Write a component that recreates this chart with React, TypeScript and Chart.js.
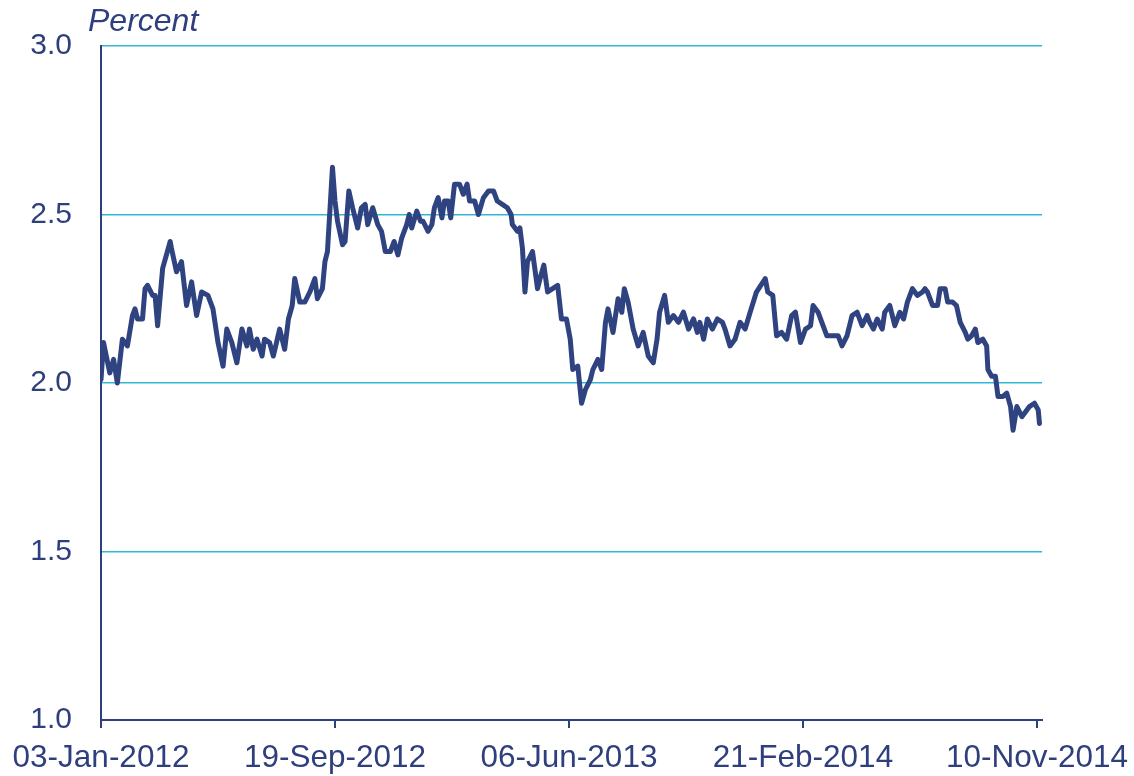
import { useEffect, useRef } from "react";
import { Chart, registerables } from "chart.js";

Chart.register(...registerables);

// Trading-day index (0 = 03-Jan-2012) and yield in percent
const tradingDay = [0,2,7,10,13,17,21,25,27,29,33,35,37,41,43,45,49,55,56,60,64,68,72,76,80,85,89,93,97,100,104,108,112,116,118,121,124,128,130,134,137,142,146,149,152,154,158,162,166,170,172,176,178,180,184,186,188,192,194,197,200,204,207,210,212,216,220,223,226,230,233,236,239,243,245,247,251,254,256,260,263,265,268,271,273,276,278,281,285,288,291,293,297,300,304,308,312,315,319,323,326,327,331,333,335,337,339,343,347,349,352,355,359,363,366,370,373,375,379,382,385,389,391,395,398,401,403,407,411,414,416,419,423,427,431,435,439,442,444,448,451,455,459,463,467,471,474,476,479,482,486,490,494,496,500,504,508,512,516,521,528,530,534,537,541,545,549,552,556,560,564,566,570,573,577,582,586,589,593,597,601,605,609,611,614,617,621,623,627,631,635,638,641,645,649,653,655,657,661,665,667,671,673,677,680,683,687,689,692,695,697,701,704,705,708,711,713,717,720,723,725,728,732,736,738,742,745,746];

const yieldPct = [2.01,2.12,2.03,2.07,2.00,2.13,2.11,2.20,2.22,2.19,2.19,2.28,2.29,2.26,2.26,2.17,2.34,2.42,2.40,2.33,2.36,2.23,2.30,2.20,2.27,2.26,2.22,2.12,2.05,2.16,2.12,2.06,2.16,2.11,2.16,2.10,2.13,2.08,2.13,2.12,2.08,2.16,2.10,2.19,2.23,2.31,2.24,2.24,2.27,2.31,2.25,2.28,2.36,2.39,2.64,2.54,2.48,2.41,2.42,2.57,2.52,2.46,2.52,2.53,2.47,2.52,2.47,2.45,2.39,2.39,2.42,2.38,2.43,2.47,2.50,2.46,2.51,2.48,2.48,2.45,2.47,2.52,2.55,2.49,2.54,2.54,2.49,2.59,2.59,2.56,2.59,2.54,2.54,2.50,2.55,2.57,2.57,2.54,2.53,2.52,2.50,2.47,2.45,2.46,2.40,2.27,2.36,2.39,2.28,2.31,2.35,2.27,2.28,2.29,2.19,2.19,2.13,2.04,2.05,1.94,1.98,2.01,2.04,2.07,2.04,2.18,2.22,2.15,2.25,2.21,2.28,2.24,2.16,2.11,2.15,2.08,2.06,2.13,2.21,2.26,2.18,2.20,2.18,2.21,2.16,2.19,2.15,2.18,2.13,2.19,2.16,2.19,2.18,2.16,2.11,2.13,2.18,2.16,2.21,2.27,2.31,2.27,2.26,2.14,2.15,2.13,2.20,2.21,2.12,2.16,2.17,2.23,2.21,2.18,2.14,2.14,2.14,2.11,2.14,2.20,2.21,2.17,2.20,2.18,2.16,2.19,2.16,2.21,2.23,2.17,2.21,2.19,2.24,2.28,2.26,2.27,2.28,2.27,2.23,2.23,2.28,2.28,2.24,2.24,2.23,2.18,2.15,2.13,2.14,2.16,2.12,2.13,2.11,2.04,2.02,2.02,1.96,1.96,1.97,1.93,1.86,1.93,1.90,1.92,1.93,1.94,1.92,1.88];

const tickDays = [0, 186, 372, 558, 744];
const tickLabels = ["03-Jan-2012", "19-Sep-2012", "06-Jun-2013", "21-Feb-2014", "10-Nov-2014"];
const yTicks = [1.0, 1.5, 2.0, 2.5, 3.0];

const NAVY = "#2F3F7D";
const LINE = "#2F4381";
const CYAN = "#33B7D6";
const FONT = '"Liberation Sans", Arial, Helvetica, sans-serif';

export default function App() {
  const ref = useRef<HTMLCanvasElement | null>(null);

  useEffect(() => {
    if (!ref.current) return;
    const n = Math.min(tradingDay.length, yieldPct.length);
    const points = [];
    for (let i = 0; i < n; i++) points.push({ x: tradingDay[i], y: yieldPct[i] });

    const percentLabel = {
      id: "percentLabel",
      afterDraw(chart: any) {
        const { ctx, chartArea } = chart;
        ctx.save();
        ctx.font = `italic 32px ${FONT}`;
        ctx.fillStyle = NAVY;
        ctx.textBaseline = "alphabetic";
        ctx.textAlign = "left";
        ctx.fillText("Percent", chartArea.left - 13, 31);
        ctx.restore();
      },
    };

    const chart = new Chart(ref.current, {
      type: "line",
      data: {
        datasets: [
          {
            data: points,
            borderColor: LINE,
            borderWidth: 5,
            borderJoinStyle: "round",
            borderCapStyle: "round",
            pointRadius: 0,
            tension: 0,
            fill: false,
          },
        ],
      },
      options: {
        animation: false,
        responsive: false,
        devicePixelRatio: 1,
        layout: { padding: { top: 46, right: 92, left: 0, bottom: 0 } },
        plugins: { legend: { display: false }, tooltip: { enabled: false }, title: { display: false } },
        scales: {
          x: {
            type: "linear",
            min: 0,
            max: 748,
            afterBuildTicks: (scale: any) => {
              scale.ticks = tickDays.map((v) => ({ value: v }));
            },
            afterFit: (scale: any) => {
              scale.height = 56;
              scale.paddingLeft = 0;
              scale.paddingRight = 0;
            },
            border: { display: true, color: NAVY, width: 2 },
            grid: { drawOnChartArea: false, drawTicks: true, tickLength: 8, color: NAVY, lineWidth: 2 },
            ticks: {
              autoSkip: false,
              maxRotation: 0,
              padding: 11,
              color: NAVY,
              font: { family: FONT, size: 31.5 },
              callback: (v: any) => {
                const i = tickDays.indexOf(Number(v));
                return i >= 0 ? tickLabels[i] : "";
              },
            },
          },
          y: {
            min: 1,
            max: 3,
            afterBuildTicks: (scale: any) => {
              scale.ticks = yTicks.map((v) => ({ value: v }));
            },
            afterFit: (scale: any) => {
              scale.width = 101;
              scale.paddingTop = 0;
              scale.paddingBottom = 0;
            },
            border: { display: true, color: NAVY, width: 2 },
            grid: {
              drawTicks: false,
              color: (c: any) => (c.tick && c.tick.value === 1 ? "rgba(0,0,0,0)" : CYAN),
              lineWidth: 1.5,
            },
            ticks: {
              padding: 29,
              color: NAVY,
              font: { family: FONT, size: 30 },
              callback: (v: any) => Number(v).toFixed(1),
            },
          },
        },
      },
      plugins: [percentLabel],
    });
    return () => chart.destroy();
  }, []);

  return (
    <div style={{ position: "absolute", left: 0, top: 0, width: 1134, height: 776, background: "#fff" }}>
      <canvas ref={ref} width={1134} height={776} style={{ display: "block" }} />
    </div>
  );
}
